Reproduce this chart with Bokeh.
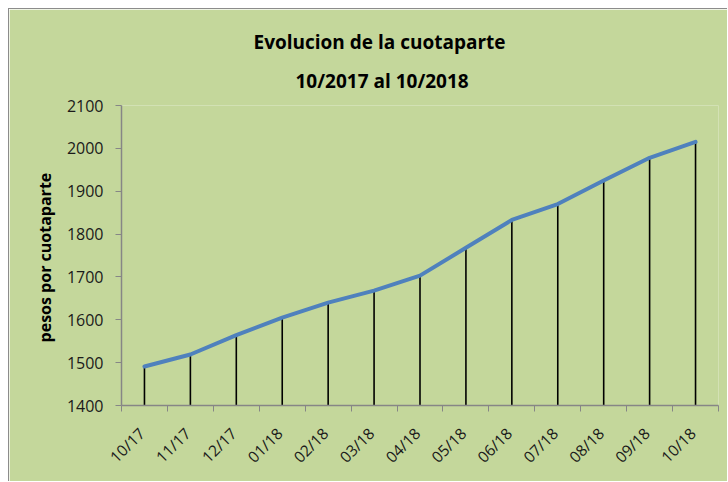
from bokeh.plotting import figure
from bokeh.models import FixedTicker, Range1d, Title, CustomJSTickFormatter
from bokeh.embed import file_html
from bokeh.resources import INLINE
import math

months = ["10/17", "11/17", "12/17", "01/18", "02/18", "03/18", "04/18",
          "05/18", "06/18", "07/18", "08/18", "09/18", "10/18"]
values = [1491, 1519, 1564, 1605, 1640, 1668, 1703,
          1768, 1833, 1870, 1925, 1978, 2015]
y_ticks = [1400, 1500, 1600, 1700, 1800, 1900, 2000, 2100]
title_lines = ["Evolucion de la cuotaparte", "10/2017 al 10/2018"]
y_label = "pesos  por cuotaparte"

BG = "#C4D79B"
AX = "#868686"
FONT = "Open Sans"
LABEL_SHIFT = -0.06  # category-units shift of the rotated labels

xs = list(range(len(months)))

p = figure(width=719, height=473, output_backend="svg", toolbar_location=None,
           x_range=Range1d(-0.5, len(months) - 0.5), y_range=Range1d(1400, 2100))
p.background_fill_color = BG
p.border_fill_color = BG
p.outline_line_color = None
p.min_border_left = 112
p.min_border_right = 10
p.min_border_top = 96
p.min_border_bottom = 77
p.styles = {"margin-left": "8px", "margin-top": "8px",
            "border-top": "1px solid #8c8c8c", "border-left": "1px solid #8c8c8c"}
p.grid.visible = False

# drop lines
p.segment(x0=xs, y0=[1400] * len(xs), x1=xs, y1=values, line_color="black", line_width=1.6)
# series line
p.line(xs, values, line_color="#4F81BD", line_width=4, line_join="round", line_cap="round")

# x axis: labels near centers, ticks between categories
xa = p.xaxis[0]
xa.ticker = FixedTicker(ticks=[i + LABEL_SHIFT for i in xs],
                        minor_ticks=[i - 0.5 for i in range(len(months) + 1)])
xa.formatter = CustomJSTickFormatter(args=dict(labels=months, shift=LABEL_SHIFT),
                                     code="return labels[Math.round(tick - shift)]")
xa.major_tick_out = 0
xa.major_tick_in = 0
xa.minor_tick_out = 6
xa.minor_tick_in = 0
xa.minor_tick_line_color = AX
xa.axis_line_color = AX
xa.axis_line_width = 1.5
xa.major_label_orientation = math.pi / 4
xa.major_label_text_font = FONT
xa.major_label_text_font_size = "15.5px"
xa.major_label_text_color = "#1a1a1a"
xa.major_label_standoff = 19

ya = p.yaxis[0]
ya.ticker = FixedTicker(ticks=y_ticks, minor_ticks=[])
ya.major_tick_out = 6
ya.major_tick_in = 0
ya.major_tick_line_color = AX
ya.axis_line_color = AX
ya.axis_line_width = 1.5
ya.major_label_text_font = FONT
ya.major_label_text_font_size = "16px"
ya.major_label_text_color = "#1a1a1a"
ya.major_label_standoff = 12
ya.axis_label = y_label
ya.axis_label_text_font = FONT
ya.axis_label_text_font_size = "16px"
ya.axis_label_text_font_style = "bold"
ya.axis_label_text_color = "black"
ya.axis_label_standoff = 8

# titles: second line nearest the frame, first line above it
p.add_layout(Title(text=title_lines[1], align="left", offset=174, standoff=23,
                   text_font=FONT, text_font_size="19px", text_font_style="bold",
                   text_color="black"), "above")
p.add_layout(Title(text=title_lines[0], align="left", offset=132, standoff=0,
                   text_font=FONT, text_font_size="19px", text_font_style="bold",
                   text_color="black"), "above")

open("out.html", "w").write(file_html(p, INLINE))
